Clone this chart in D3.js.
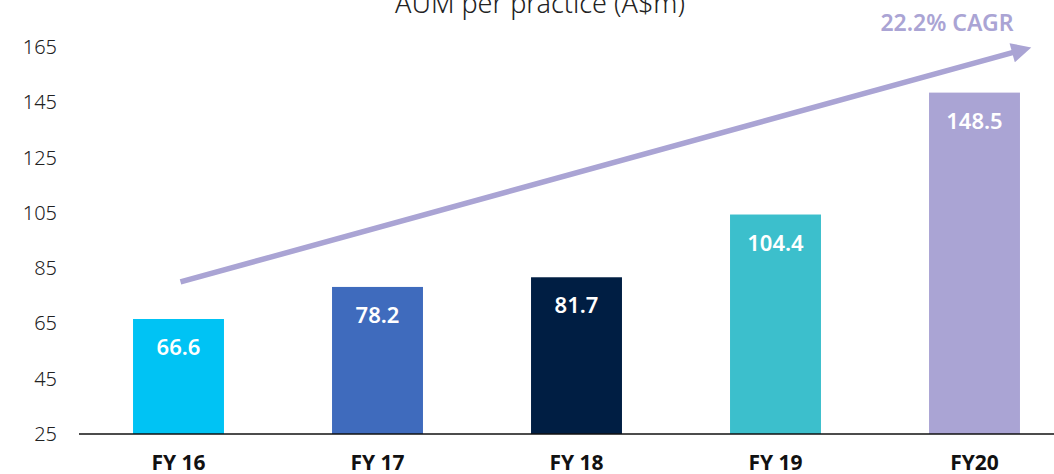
<!DOCTYPE html>
<html>
<head>
<meta charset="utf-8">
<script src="https://cdn.jsdelivr.net/npm/d3@7"></script>
<style>
   body { margin: 0; background: #fff; }
   svg { display: block; font-family: "Noto Sans", sans-serif; }
</style>
</head>
<body>
<div id="chart"></div>
<script>
// Data
const categories = ["FY 16", "FY 17", "FY 18", "FY 19", "FY20"];
const values = [66.6, 78.2, 81.7, 104.4, 148.5];
const barColors = ["#00c3f4", "#3f6bbd", "#001e43", "#3cbfcc", "#aaa4d4"];
const yTicks = [25, 45, 65, 85, 105, 125, 145, 165];
const title = "AUM per practice (A$m)";
const cagrLabel = "22.2% CAGR";

const width = 1054, height = 474;

const svg = d3.select("#chart")
   .append("svg")
   .attr("width", width)
   .attr("height", height);

// Scales
const x = d3.scaleBand()
   .domain(categories)
   .range([79, 1074])
   .paddingInner(0.543)
   .paddingOuter(0.2715);

const y = d3.scaleLinear()
   .domain([25, 165])
   .range([434, 47]);

// Title (cut at top like the original)
svg.append("text")
   .attr("x", 540)
   .attr("y", 13)
   .attr("text-anchor", "middle")
   .attr("font-size", 27)
   .attr("font-weight", 300)
   .attr("fill", "#222")
   .text(title);

// Y axis labels
svg.append("g")
   .selectAll("text")
   .data(yTicks)
   .join("text")
   .attr("x", 57)
   .attr("y", (d) => y(d))
   .attr("dy", "0.35em")
   .attr("text-anchor", "end")
   .attr("font-size", 20)
   .attr("font-weight", 300)
   .attr("fill", "#222")
   .text((d) => d);

// Bars
svg.append("g")
   .selectAll("rect")
   .data(values)
   .join("rect")
   .attr("x", (d, i) => x(categories[i]))
   .attr("y", (d) => y(d))
   .attr("width", x.bandwidth())
   .attr("height", (d) => y(25) - y(d))
   .attr("fill", (d, i) => barColors[i]);

// Value labels inside bars
svg.append("g")
   .selectAll("text")
   .data(values)
   .join("text")
   .attr("x", (d, i) => x(categories[i]) + x.bandwidth() / 2)
   .attr("y", (d) => y(d) + 36)
   .attr("text-anchor", "middle")
   .attr("font-size", 22)
   .attr("font-weight", 600)
   .attr("fill", "#fff")
   .text((d) => d.toFixed(1));

// Baseline
svg.append("line")
   .attr("x1", 79)
   .attr("x2", width)
   .attr("y1", y(25))
   .attr("y2", y(25))
   .attr("stroke", "#111")
   .attr("stroke-width", 1.5);

// X axis labels
svg.append("g")
   .selectAll("text")
   .data(categories)
   .join("text")
   .attr("x", (d) => x(d) + x.bandwidth() / 2)
   .attr("y", 470)
   .attr("text-anchor", "middle")
   .attr("font-size", 21)
   .attr("font-weight", 700)
   .attr("fill", "#111")
   .text((d) => d);

// CAGR arrow
const arrowColor = "#aaa4d4";
svg.append("defs")
   .append("marker")
   .attr("id", "arrowhead")
   .attr("viewBox", "0 0 10 10")
   .attr("refX", 2)
   .attr("refY", 5)
   .attr("markerWidth", 4)
   .attr("markerHeight", 3.6)
   .attr("orient", "auto")
   .attr("markerUnits", "strokeWidth")
   .append("path")
   .attr("d", "M0,0 L10,5 L0,10 Z")
   .attr("fill", arrowColor);

const x0 = x(categories[0]) + x.bandwidth() / 2 + 2;
svg.append("line")
   .attr("x1", x0)
   .attr("y1", y(80))
   .attr("x2", 1016)
   .attr("y2", y(163.3))
   .attr("stroke", arrowColor)
   .attr("stroke-width", 5.5)
   .attr("marker-end", "url(#arrowhead)");

svg.append("text")
   .attr("x", 947)
   .attr("y", 31)
   .attr("text-anchor", "middle")
   .attr("font-size", 23)
   .attr("font-weight", 600)
   .attr("fill", arrowColor)
   .text(cagrLabel);
</script>
</body>
</html>
